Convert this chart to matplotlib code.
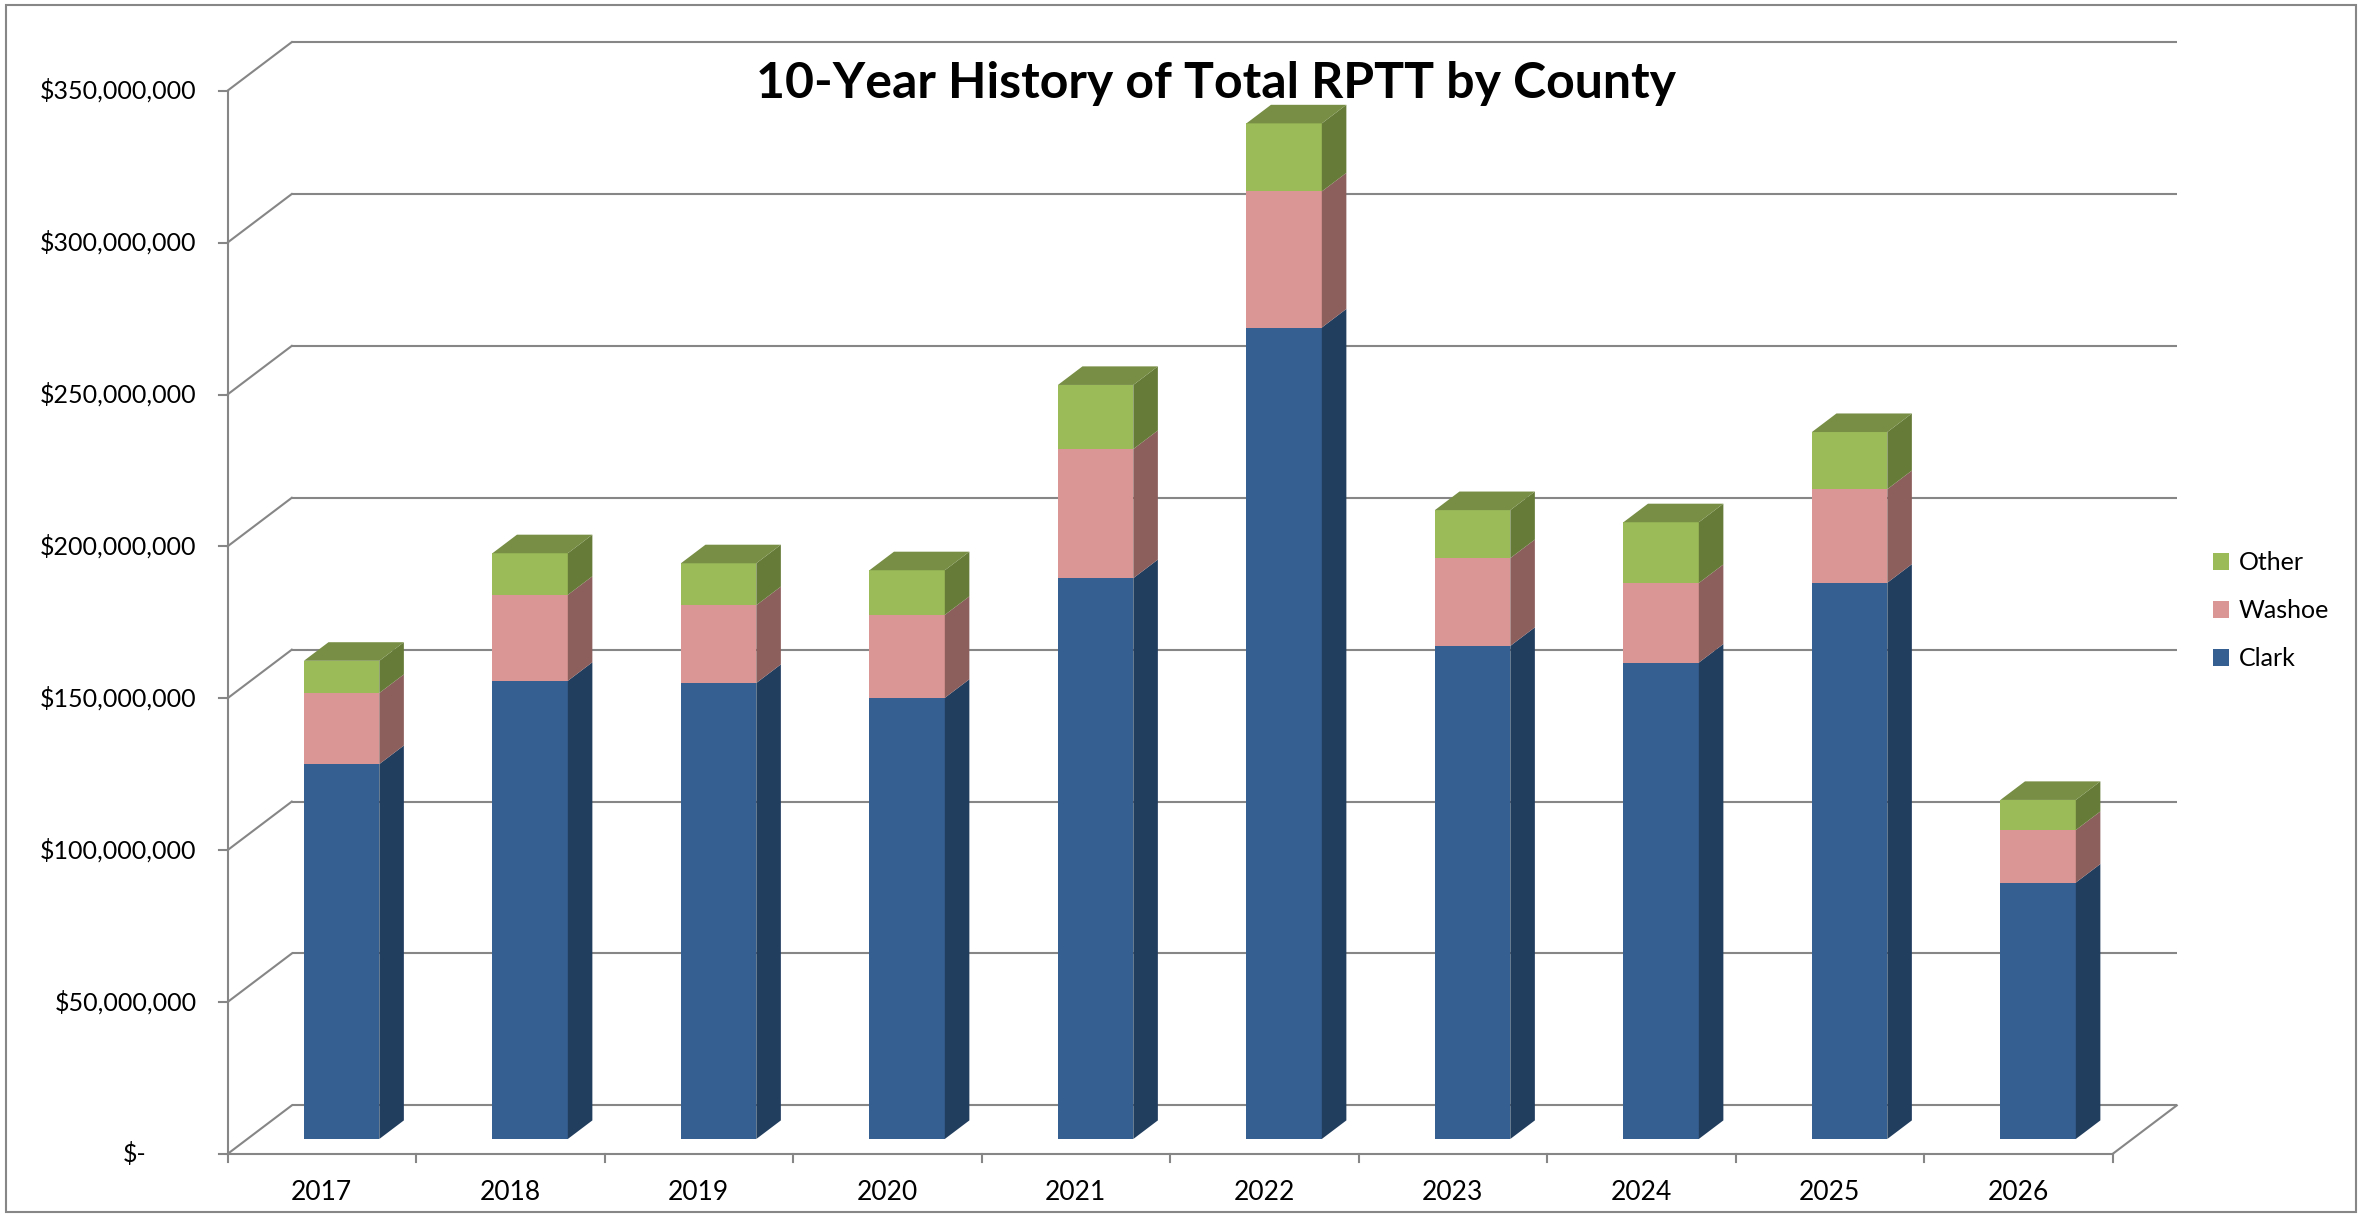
import matplotlib
matplotlib.use("Agg")
import matplotlib.pyplot as plt
from matplotlib.patches import Polygon, Patch, Rectangle

# ---------------- data (USD) ----------------
years = ["2017", "2018", "2019", "2020", "2021", "2022", "2023", "2024", "2025", "2026"]
clark = [123.4e6, 150.8e6, 150.1e6, 145.2e6, 184.6e6, 267.1e6, 162.3e6, 156.8e6, 183.1e6, 84.4e6]
washoe = [23.4e6, 28.3e6, 25.6e6, 27.3e6, 42.5e6, 44.8e6, 28.9e6, 26.2e6, 30.8e6, 17.3e6]
other = [10.6e6, 13.7e6, 13.8e6, 14.7e6, 21.1e6, 22.4e6, 15.8e6, 20.0e6, 18.8e6, 9.9e6]
series_names = ["Clark", "Washoe", "Other"]
y_ticks = [0, 50e6, 100e6, 150e6, 200e6, 250e6, 300e6, 350e6]
y_tick_labels = ["$-", "$50,000,000", "$100,000,000", "$150,000,000", "$200,000,000",
                 "$250,000,000", "$300,000,000", "$350,000,000"]
title = "10-Year History of Total RPTT by County"

# ---------------- style ----------------
FONT = "Lato"
front_col = {"Clark": "#365F91", "Washoe": "#D99694", "Other": "#9BBB59"}
side_col = {"Clark": "#223E5F", "Washoe": "#8C5F5D", "Other": "#667B38"}
top_col = {"Clark": "#2B4D75", "Washoe": "#B07876", "Other": "#778E44"}
GRID = "#868686"
LW = 1.5

W, H = 2365, 1215
fig = plt.figure(figsize=(W / 100, H / 100), dpi=100)
ax = fig.add_axes([0, 0, 1, 1])
X0, XS = 227.5, 188.5          # pixel of x=0, pixels per category
Y0, YS = 1154.0, 3.038e-6      # pixel (from top) of y=0, pixels per dollar
ax.set_xlim(-X0 / XS, (W - X0) / XS)
ax.set_ylim((Y0 - H) / YS, Y0 / YS)
ax.axis("off")

n = len(years)
DXB, DYB = 0.341, 16e6         # depth offset of back wall (data units)
F0, FD = 0.309, 0.382          # bar front-face depth fraction, bar depth fraction
BW = 0.4
ymax = y_ticks[-1]

# back wall gridlines + left wall diagonals
for v in y_ticks:
    ax.plot([DXB, n + DXB], [v + DYB, v + DYB], color=GRID, lw=LW, zorder=1,
            solid_capstyle="butt")
    ax.plot([0, DXB], [v, v + DYB], color=GRID, lw=LW, zorder=1)
# floor right edge
ax.plot([n, n + DXB], [0, DYB], color=GRID, lw=LW, zorder=1)
# front axes
ax.plot([0, 0], [0, ymax], color=GRID, lw=LW, zorder=4)
ax.plot([0, n], [0, 0], color=GRID, lw=LW, zorder=4)
tick_dx = 9 / XS
tick_dy = 8 / YS
for v, lab in zip(y_ticks, y_tick_labels):
    ax.plot([-tick_dx, 0], [v, v], color=GRID, lw=LW, zorder=4)
    xr = -tick_dx - 22 / XS
    if lab == "$-":
        xr -= 50 / XS
    ax.text(xr, v, lab, ha="right", va="center", fontsize=18, family=FONT, color="black")
for i in range(n + 1):
    ax.plot([i, i], [0, -tick_dy], color=GRID, lw=LW, zorder=4)
label_y = -38 / YS
for i, yr in enumerate(years):
    ax.text(i + 0.5, label_y, yr, ha="center", va="center", fontsize=19,
            family=FONT, color="black")

# 3D stacked bars
ox, oy = F0 * DXB, F0 * DYB
ddx, ddy = FD * DXB, FD * DYB
stack = {"Clark": clark, "Washoe": washoe, "Other": other}
cum = [0.0] * n
for name in series_names:
    vals = stack[name]
    xc = [i + 0.5 + ox for i in range(n)]
    bottoms = [oy + c for c in cum]
    ax.bar(xc, vals, bottom=bottoms, width=BW, color=front_col[name], zorder=3,
           linewidth=0)
    for i in range(n):
        xr = xc[i] + BW / 2
        y0 = bottoms[i]
        y1 = y0 + vals[i]
        ax.add_patch(Polygon([(xr, y0), (xr + ddx, y0 + ddy), (xr + ddx, y1 + ddy), (xr, y1)],
                             closed=True, facecolor=side_col[name], edgecolor="none", zorder=3))
    cum = [c + v for c, v in zip(cum, vals)]
# top faces
top_name = series_names[-1]
for i in range(n):
    xl = i + 0.5 + ox - BW / 2
    xr = xl + BW
    yt = oy + cum[i]
    ax.add_patch(Polygon([(xl, yt), (xl + ddx, yt + ddy), (xr + ddx, yt + ddy), (xr, yt)],
                         closed=True, facecolor=top_col[top_name], edgecolor="none", zorder=3))

# title
fig.text(1216 / W, 1 - 84 / H, title, ha="center", va="center", fontsize=36,
         fontweight="bold", family=FONT, color="black")

# legend
handles = [Patch(facecolor=front_col[s], edgecolor="none", label=s) for s in reversed(series_names)]
fig.legend(handles=handles, loc="center left", bbox_to_anchor=(2213 / W, 1 - 611 / H),
           frameon=False, prop={"family": FONT, "size": 18}, handlelength=0.64,
           handleheight=0.64, handletextpad=0.4, labelspacing=1.0, borderpad=0,
           borderaxespad=0)

# outer border
fig.patches.append(Rectangle((6 / W, 3 / H), (2356 - 6) / W, (1210 - 3) / H,
                             transform=fig.transFigure, fill=False, edgecolor="#878787", lw=1.5))

fig.savefig("out.png", dpi=100)
